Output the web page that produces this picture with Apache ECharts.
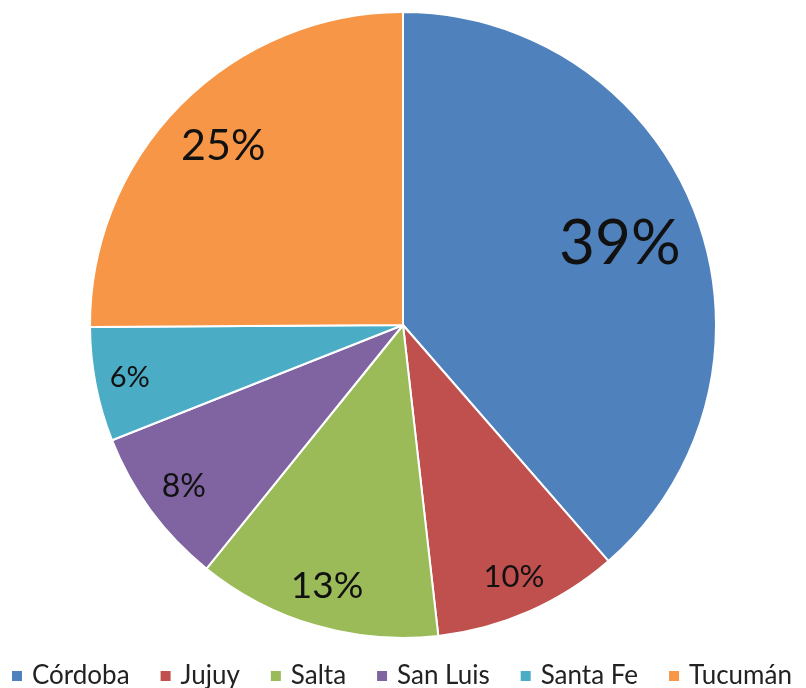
<!DOCTYPE html>
<html><head><meta charset="utf-8">
<script src="https://cdn.jsdelivr.net/npm/echarts@6/dist/echarts.min.js"></script>
<style>html,body{margin:0;padding:0;background:#fff}#c{width:806px;height:688px}</style>
</head><body><div id="c"></div>
<script>
const categories = ['Córdoba', 'Jujuy', 'Salta', 'San Luis', 'Santa Fe', 'Tucumán'];
const values = [38.6, 9.6, 12.6, 8.2, 5.9, 25.1];
const labels = ['39%', '10%', '13%', '8%', '6%', '25%'];
const colors = ['#4F81BD', '#C0504D', '#9BBB59', '#8064A2', '#4BACC6', '#F79646'];
const labelSizes = [62, 31, 37, 32, 29, 43];
const labelRadius = [0.73, 0.87, 0.86, 0.86, 0.88, 0.80];
const legendTextWidths = [96, 54, 55, 87, 103, 108];

const FONT = 'Lato';
const R = 313;
const CENTER = [403, 325];
const chart = echarts.init(document.getElementById('c'), null, {renderer: 'canvas'});
const pieData = categories.map((n, i) => ({name: n, value: values[i], itemStyle: {color: colors[i]}}));

const labelSeries = categories.map((cat, k) => ({
  type: 'pie', center: CENTER, radius: [0, R * 2 * labelRadius[k]], startAngle: 90, clockwise: true,
  silent: true, avoidLabelOverlap: false,
  itemStyle: {color: 'rgba(0,0,0,0)', borderWidth: 0},
  label: {show: false},
  labelLine: {show: false},
  emphasis: {disabled: true},
  data: categories.map((n, i) => ({
    name: n, value: values[i],
    label: i === k ? {show: true, position: 'inside', formatter: labels[i], fontSize: labelSizes[i], fontFamily: FONT, color: '#111'} : {show: false}
  }))
}));

chart.setOption({
  animation: false,
  color: colors,
  legend: {
    bottom: -1, left: 10, width: 806, padding: 0,
    itemWidth: 12, itemHeight: 12, itemGap: 29,
    icon: 'rect',
    textStyle: {fontFamily: FONT, fontSize: 26, color: '#222', padding: [0, 0, 0, 4]},
    data: categories.map((n, i) => ({name: n, textStyle: {width: legendTextWidths[i]}}))
  },
  series: [{
    type: 'pie', center: CENTER, radius: [0, R], startAngle: 90, clockwise: true,
    avoidLabelOverlap: false, label: {show: false}, labelLine: {show: false},
    itemStyle: {borderColor: '#fff', borderWidth: 2},
    emphasis: {disabled: true},
    data: pieData
  }].concat(labelSeries)
});
</script></body></html>
